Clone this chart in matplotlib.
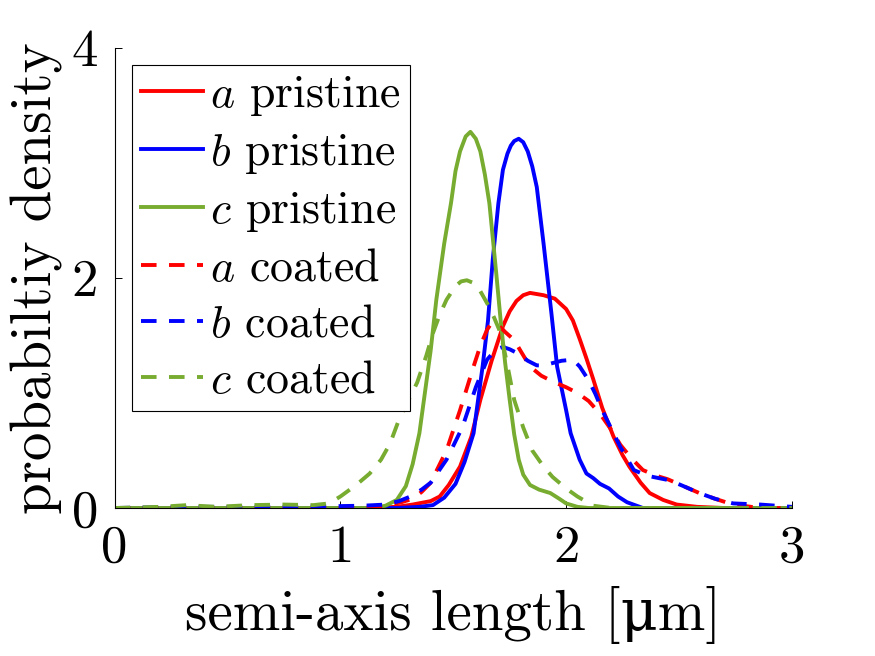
import matplotlib
matplotlib.use("Agg")
import matplotlib.pyplot as plt

# semi-axis length distributions
xa_pr = [0, 1.10, 1.25, 1.32, 1.40, 1.44, 1.48, 1.53, 1.58, 1.62, 1.67, 1.72, 1.75, 1.78, 1.81, 1.84, 1.87,
         1.90, 1.95, 2.00, 2.03, 2.06, 2.09, 2.12, 2.16, 2.21, 2.25, 2.28, 2.33, 2.37, 2.43, 2.49, 2.58,
         2.70, 3.0]
ya_pr = [0, 0, 0.01, 0.03, 0.06, 0.10, 0.20, 0.36, 0.62, 0.94, 1.28, 1.58, 1.71, 1.80, 1.85, 1.87, 1.86,
         1.85, 1.82, 1.73, 1.63, 1.47, 1.30, 1.12, 0.87, 0.62, 0.46, 0.36, 0.22, 0.13, 0.07, 0.03, 0.01,
         0, 0]

xb_pr = [0, 1.25, 1.35, 1.41, 1.46, 1.51, 1.55, 1.59, 1.63, 1.654, 1.675, 1.70, 1.72, 1.74, 1.755, 1.77,
         1.79, 1.81, 1.83, 1.85, 1.87, 1.90, 1.935, 1.96, 2.00, 2.02, 2.06, 2.09, 2.12, 2.15, 2.19, 2.23,
         2.27, 2.34, 2.50, 3.0]
yb_pr = [0, 0, 0.01, 0.025, 0.09, 0.21, 0.40, 0.65, 1.23, 1.63, 2.16, 2.65, 2.94, 3.08, 3.15, 3.19,
         3.21, 3.18, 3.10, 2.97, 2.79, 2.30, 1.69, 1.23, 0.85, 0.65, 0.42, 0.30, 0.26, 0.21, 0.17, 0.10,
         0.05, 0, 0, 0]

xc_pr = [0, 1.15, 1.20, 1.25, 1.29, 1.32, 1.35, 1.40, 1.425, 1.46, 1.49, 1.51, 1.53, 1.555, 1.576, 1.60,
         1.62, 1.64, 1.66, 1.69, 1.71, 1.73, 1.75, 1.77, 1.79, 1.81, 1.84, 1.88, 1.93, 1.97, 2.00, 2.05,
         2.10, 3.0]
yc_pr = [0, 0, 0.02, 0.07, 0.19, 0.38, 0.65, 1.37, 1.81, 2.30, 2.65, 2.93, 3.10, 3.23, 3.27, 3.21,
         3.10, 2.90, 2.65, 2.05, 1.63, 1.26, 0.94, 0.64, 0.42, 0.29, 0.20, 0.16, 0.13, 0.08, 0.04, 0.01,
         0, 0]

xa_co = [0, 1.10, 1.20, 1.27, 1.32, 1.36, 1.40, 1.47, 1.53, 1.59, 1.62, 1.65, 1.67, 1.70, 1.73, 1.77,
         1.80, 1.84, 1.89, 1.94, 2.00, 2.05, 2.10, 2.15, 2.20, 2.24, 2.29, 2.34, 2.40, 2.45, 2.52, 2.59,
         2.66, 2.74, 2.86, 3.0]
ya_co = [0, 0, 0.02, 0.05, 0.08, 0.14, 0.22, 0.50, 0.85, 1.23, 1.41, 1.55, 1.61, 1.59, 1.53, 1.46,
         1.36, 1.23, 1.15, 1.10, 1.05, 1.00, 0.93, 0.82, 0.68, 0.55, 0.43, 0.33, 0.28, 0.25, 0.19, 0.13,
         0.08, 0.03, 0, 0]

xb_co = [0, 0.30, 0.80, 1.10, 1.20, 1.26, 1.31, 1.36, 1.40, 1.47, 1.54, 1.60, 1.65, 1.69, 1.72, 1.75,
         1.79, 1.83, 1.87, 1.90, 1.94, 1.98, 2.03, 2.06, 2.10, 2.13, 2.16, 2.20, 2.24, 2.30, 2.36, 2.41,
         2.46, 2.52, 2.59, 2.66, 2.74, 2.86, 3.0]
yb_co = [0, 0.01, 0.01, 0.02, 0.03, 0.06, 0.10, 0.16, 0.22, 0.42, 0.70, 1.05, 1.29, 1.38, 1.40, 1.38,
         1.34, 1.28, 1.24, 1.24, 1.26, 1.28, 1.29, 1.23, 1.11, 0.99, 0.85, 0.69, 0.53, 0.33, 0.28, 0.26,
         0.24, 0.19, 0.13, 0.08, 0.04, 0.03, 0.01]

xc_co = [0, 0.20, 0.32, 0.45, 0.60, 0.75, 0.88, 0.95, 1.00, 1.07, 1.13, 1.18, 1.22, 1.26, 1.30, 1.34,
         1.38, 1.41, 1.44, 1.47, 1.51, 1.535, 1.56, 1.585, 1.61, 1.65, 1.68, 1.71, 1.74, 1.77, 1.81, 1.85,
         1.90, 1.94, 2.00, 2.05, 2.12, 2.20, 3.0]
yc_co = [0, 0.01, 0.025, 0.01, 0.025, 0.03, 0.025, 0.04, 0.10, 0.20, 0.30, 0.42, 0.56, 0.77, 0.93, 1.09,
         1.32, 1.52, 1.68, 1.81, 1.93, 1.97, 1.98, 1.96, 1.92, 1.78, 1.66, 1.52, 1.24, 0.94, 0.70, 0.50,
         0.36, 0.27, 0.17, 0.10, 0.02, 0, 0]

series = [
    (xa_pr, ya_pr, '$a$ pristine'), (xb_pr, yb_pr, '$b$ pristine'), (xc_pr, yc_pr, '$c$ pristine'),
    (xa_co, ya_co, '$a$ coated'), (xb_co, yb_co, '$b$ coated'), (xc_co, yc_co, '$c$ coated'),
]
colors = ['#ff0000', '#0000ff', '#77ac30'] * 2
styles = ['-'] * 3 + [(0, (4.0, 3.2))] * 3

x_ticks = [0, 1, 2, 3]
y_ticks = [0, 2, 4]

plt.rcParams['font.family'] = ['cmr10', 'DejaVu Serif']
plt.rcParams['mathtext.fontset'] = 'cm'
plt.rcParams['axes.formatter.use_mathtext'] = True

fig = plt.figure(figsize=(8.75, 6.56), dpi=100)
ax = fig.add_axes([0.131, 0.2256, 0.774, 0.7014])

for (x, y, lab), c, ls in zip(series, colors, styles):
    ax.plot(x, y, color=c, linestyle=ls, linewidth=2.8, label=lab)

ax.set_xlim(0, 3)
ax.set_ylim(0, 4)
ax.set_xticks(x_ticks)
ax.set_xticklabels([str(t) for t in x_ticks])
ax.set_yticks(y_ticks)
ax.set_yticklabels([str(t) for t in y_ticks])
ax.tick_params(direction='in', length=5, width=0.7, labelsize=38, pad=12)
ax.tick_params(axis='y', pad=12)
for side in ['top', 'right']:
    ax.spines[side].set_visible(False)
for side in ['left', 'bottom']:
    ax.spines[side].set_linewidth(0.8)

ax.set_xlabel('semi-axis length [μm]', fontsize=41, labelpad=10)
ax.set_ylabel('probabiltiy density', fontsize=41, labelpad=6)

leg = ax.legend(loc='upper left', bbox_to_anchor=(0.026, 0.963), borderaxespad=0,
                fontsize=33, handlelength=1.35, handletextpad=0.15, labelspacing=0.31,
                borderpad=0.2, fancybox=False, framealpha=1, edgecolor='black')
leg.get_frame().set_linewidth(0.8)

fig.savefig('out.png', dpi=100)
